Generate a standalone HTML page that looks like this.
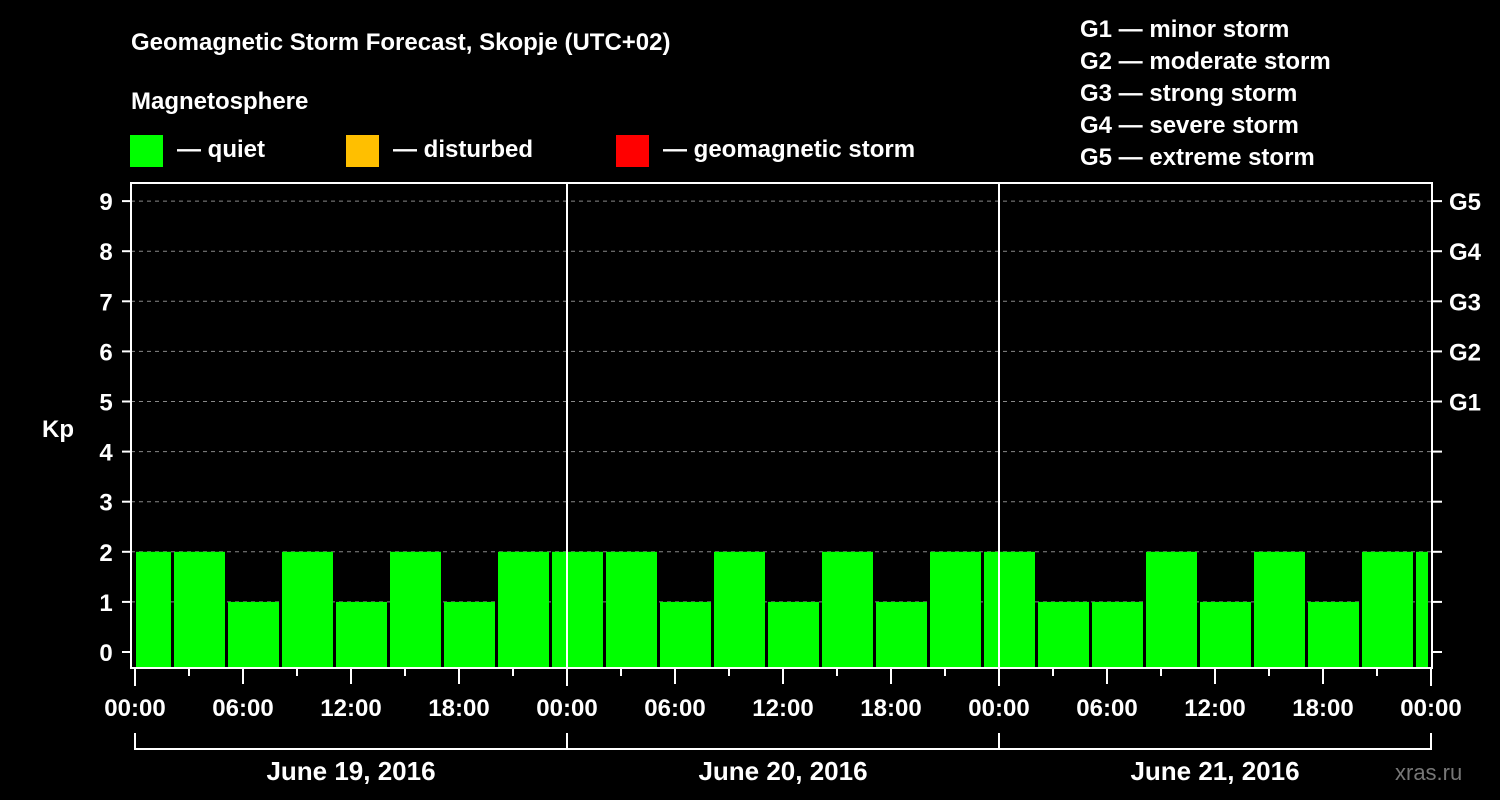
<!DOCTYPE html>
<html><head><meta charset="utf-8"><style>
html,body{margin:0;padding:0;background:#000;}
svg{display:block;font-family:"Liberation Sans",Arial,sans-serif;font-weight:bold;}
</style></head><body>
<svg id="chart" width="1500" height="800" viewBox="0 0 1500 800" xmlns="http://www.w3.org/2000/svg">
<rect width="1500" height="800" fill="#000"/>
<text x="131" y="50" fill="#fff" font-size="24">Geomagnetic Storm Forecast, Skopje (UTC+02)</text>
<text x="131" y="109" fill="#fff" font-size="24">Magnetosphere</text>
<g>
<rect x="130" y="135" width="33" height="32" fill="#00ff00"/>
<text x="177" y="157" fill="#fff" font-size="24">— quiet</text>
<rect x="346" y="135" width="33" height="32" fill="#ffbf00"/>
<text x="393" y="157" fill="#fff" font-size="24">— disturbed</text>
<rect x="616" y="135" width="33" height="32" fill="#ff0000"/>
<text x="663" y="157" fill="#fff" font-size="24">— geomagnetic storm</text>
</g>
<g fill="#fff" font-size="24">
<text x="1080" y="37">G1 — minor storm</text>
<text x="1080" y="69">G2 — moderate storm</text>
<text x="1080" y="101">G3 — strong storm</text>
<text x="1080" y="133">G4 — severe storm</text>
<text x="1080" y="165">G5 — extreme storm</text>
</g>
<text x="42" y="437" fill="#fff" font-size="24">Kp</text>
<text x="1395" y="780" fill="#777" font-size="22" font-weight="normal">xras.ru</text>
<g id="grid"></g><g id="bars"></g><g id="axes"></g>
</svg>
<script>
const kpValues=[2,2,1,2,1,2,1,2,2,2,1,2,1,2,1,2,2,1,1,2,1,2,1,2,2];
const yTicks=[0,1,2,3,4,5,6,7,8,9];
const gLabels=["G1","G2","G3","G4","G5"];
const gLevels=[5,6,7,8,9];
const xTickLabels=["00:00","06:00","12:00","18:00","00:00","06:00","12:00","18:00","00:00","06:00","12:00","18:00","00:00"];
const dayLabels=["June 19, 2016","June 20, 2016","June 21, 2016"];
const NS="http://www.w3.org/2000/svg";
const X0=135,PXH=18,Y0=652,PXK=50.1,PL=131,PR=1432,PT=183,PB=668;
function xs(h){return X0+h*PXH;}
function ys(k){return Y0-k*PXK;}
function mk(parent,tag,attrs){const e=document.createElementNS(NS,tag);for(const k in attrs)e.setAttribute(k,attrs[k]);parent.appendChild(e);return e;}
const grid=document.getElementById('grid'),bars=document.getElementById('bars'),axes=document.getElementById('axes');
yTicks.forEach(k=>{
 if(k>0){const l=mk(grid,'line',{x1:PL,x2:PR,y1:ys(k),y2:ys(k),stroke:'#888','stroke-dasharray':'4,4','stroke-width':1});
 
 }
 const t1=mk(axes,'line',{x1:122,x2:PL,y1:ys(k),y2:ys(k),stroke:'#fff','stroke-width':2});
 
 
 const t2=mk(axes,'line',{x1:PR,x2:1442,y1:ys(k),y2:ys(k),stroke:'#fff','stroke-width':2});
 
 
 const tx=mk(axes,'text',{x:106,y:ys(k)+9,fill:'#fff','font-size':24,'text-anchor':'middle'});
 tx.textContent=k;
 
 
});
gLabels.forEach((g,i)=>{
 const t=mk(axes,'text',{x:1449,y:ys(gLevels[i])+9,fill:'#fff','font-size':24});
 t.textContent=g;
 
 
});
kpValues.forEach((v,i)=>{
 let a=xs(3*i-1)+3,b=xs(3*i+2);
 a=Math.max(a,PL+5);b=Math.min(b,PR-4);
 const c=v>=5?'#ff0000':(v>=4?'#ffbf00':'#00ff00');
 const r=mk(bars,'rect',{x:a,y:ys(v),width:b-a,height:PB-ys(v),fill:c});
 
 
});
[1,2].forEach(d=>{
 const l=mk(axes,'line',{x1:xs(24*d),x2:xs(24*d),y1:PT,y2:PB,stroke:'#fff','stroke-width':2});
 
 
});
const fr=mk(axes,'rect',{x:PL,y:PT,width:PR-PL,height:PB-PT,fill:'none',stroke:'#fff','stroke-width':2});


for(let h=0;h<=72;h+=3){
 const major=h%6===0;
 const l=mk(axes,'line',{x1:xs(h),x2:xs(h),y1:PB,y2:major?(h%24===0?686:684):676,stroke:'#fff','stroke-width':2});
 
 
}
xTickLabels.forEach((s,i)=>{
 const t=mk(axes,'text',{x:xs(i*6),y:716,fill:'#fff','font-size':24,'text-anchor':'middle'});
 t.textContent=s;
 
 
});
const br=mk(axes,'path',{d:'M'+xs(0)+' 733V749H'+xs(72)+'V733M'+xs(24)+' 733V749M'+xs(48)+' 733V749',stroke:'#fff','stroke-width':2,fill:'none'});


dayLabels.forEach((s,i)=>{
 const t=mk(axes,'text',{x:xs(24*i+12),y:780,fill:'#fff','font-size':26,'text-anchor':'middle'});
 t.textContent=s;
 
 
});
</script>
</body></html>
